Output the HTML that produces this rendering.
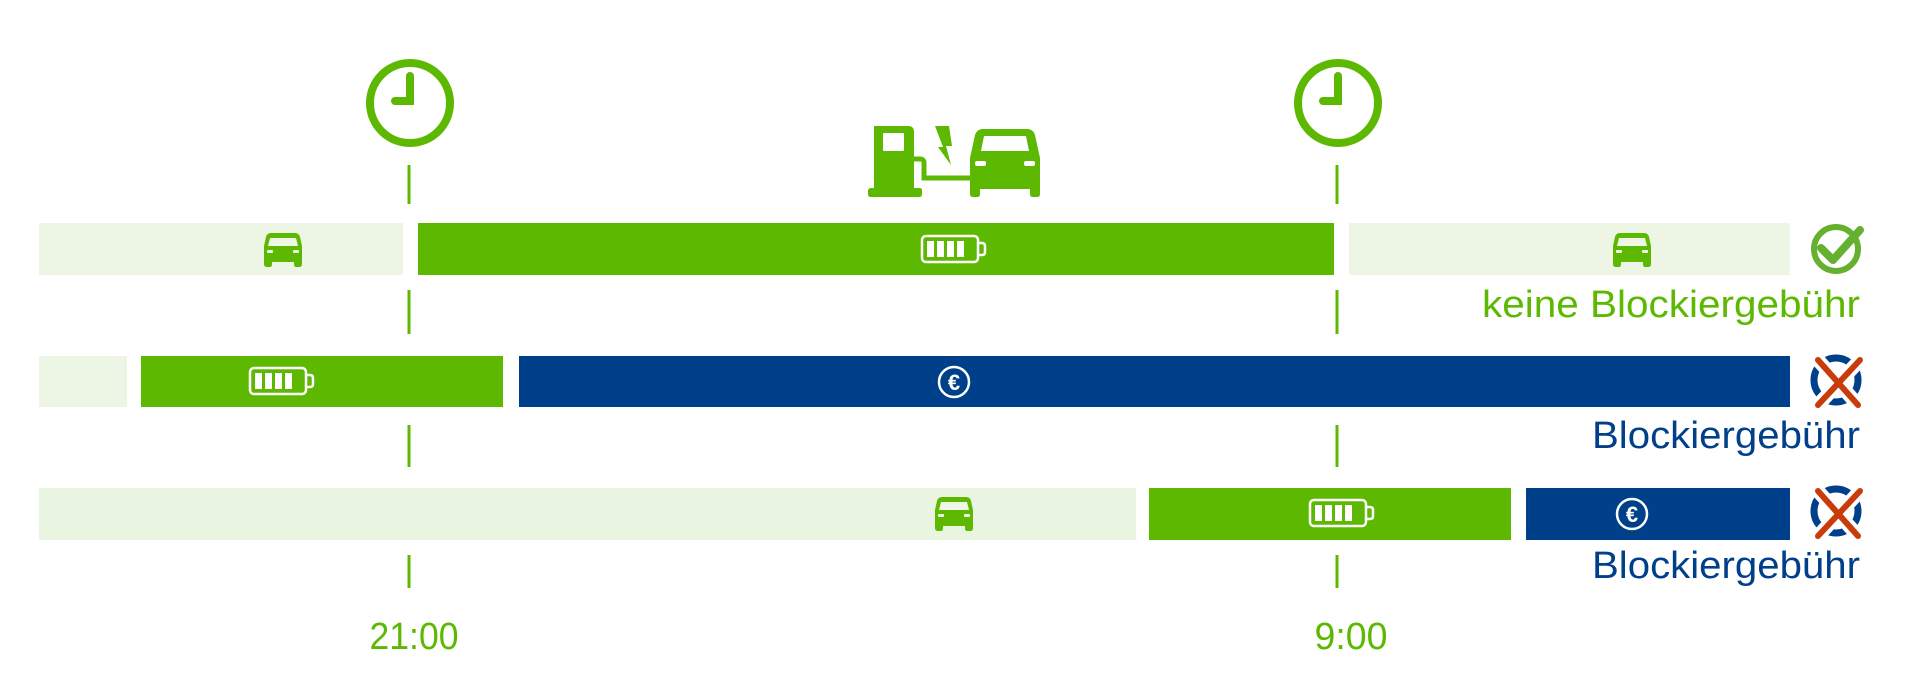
<!DOCTYPE html>
<html><head><meta charset="utf-8"><style>html,body{margin:0;padding:0;background:#fff}svg{display:block}</style></head>
<body>
<svg width="1920" height="680" viewBox="0 0 1920 680" xmlns="http://www.w3.org/2000/svg">
<defs>
<g id="car">
<path d="M-12,-17 H12 Q16,-17 17,-13 L19,-4 V14 Q19,17 16,17 H13 Q11,17 11,14 V12 H-11 V14 Q-11,17 -13,17 H-16 Q-19,17 -19,14 V-4 L-17,-13 Q-16,-17 -12,-17 Z" fill="#5cb800"/>
<path d="M-13,-12 H13 L15,-4 H-15 Z" fill="#eef6e6"/>
<rect x="-16" y="0" width="6" height="3" rx="1" fill="#eef6e6"/>
<rect x="10" y="0" width="6" height="3" rx="1" fill="#eef6e6"/>
</g>
<g id="bat">
<rect x="-32" y="-13" width="56" height="26" rx="4" fill="none" stroke="#fff" stroke-width="2.5"/>
<path d="M24,-6 h4 q3,0 3,3 v6 q0,3 -3,3 h-4" fill="none" stroke="#fff" stroke-width="2.5"/>
<rect x="-27" y="-8" width="7" height="16" fill="#fff"/>
<rect x="-17" y="-8" width="7" height="16" fill="#fff"/>
<rect x="-7" y="-8" width="7" height="16" fill="#fff"/>
<rect x="3" y="-8" width="7" height="16" fill="#fff"/>
</g>
<g id="eur">
<circle r="15" fill="none" stroke="#fff" stroke-width="2.5"/>
<text x="0" y="8" text-anchor="middle" font-family="Liberation Sans, sans-serif" font-weight="bold" font-size="22" fill="#fff">€</text>
</g>
<g id="xx">
<circle r="22" fill="none" stroke="#00408a" stroke-width="7"/>
<path d="M-18,-20 L22,25 M24,-20 L-18,25" stroke="#fff" stroke-width="14" stroke-linecap="round"/>
<path d="M-18,-20 L22,25 M24,-20 L-18,25" stroke="#c83c0a" stroke-width="6" stroke-linecap="round"/>
</g>
</defs>
<g stroke="#5cb800" stroke-width="3">
<path d="M409,165V204 M409,290V334 M409,425V467 M409,555V588"/>
<path d="M1337,165V204 M1337,290V334 M1337,425V467 M1337,555V588"/>
</g>
<g fill="none" stroke="#5cb800" stroke-width="8" stroke-linecap="round">
<circle cx="410" cy="103" r="40"/>
<path d="M410,76V101H395"/>
<circle cx="1338" cy="103" r="40"/>
<path d="M1338,76V101H1323"/>
</g>
<g fill="#5cb800">
<path d="M874,126 H908 Q914,126 914,132 V188 H920 Q922,188 922,191 V194 Q922,197 919,197 H871 Q868,197 868,194 V191 Q868,188 871,188 H874 Z"/>
<rect x="883" y="133" width="21" height="18" rx="1" fill="#fff"/>
<path d="M914,159 H920 Q924,159 924,163 V178 H974" fill="none" stroke="#5cb800" stroke-width="5"/>
<path d="M935,126 H949 L952,146 L946,146 L951,165 L938,147 L943,147 Z"/>
<path d="M983,129 H1027 Q1033,129 1035,135 L1040,158 V194 Q1040,197 1037,197 H1033 Q1030,197 1030,194 V189 H980 V194 Q980,197 977,197 H973 Q970,197 970,194 V158 L975,135 Q977,129 983,129 Z"/>
<path d="M981,151 L984,136 H1026 L1029,151 Z" fill="#fff"/>
<rect x="975" y="161" width="11" height="5" rx="2" fill="#fff"/>
<rect x="1024" y="161" width="11" height="5" rx="2" fill="#fff"/>
</g>
<rect x="39" y="223" width="364" height="52" fill="#edf6e5"/>
<rect x="418" y="223" width="916" height="52" fill="#5cb800"/>
<rect x="1349" y="223" width="441" height="52" fill="#edf6e5"/>
<use href="#car" x="283" y="250"/>
<use href="#car" x="1632" y="250"/>
<use href="#bat" x="954" y="249"/>
<circle cx="1836" cy="249" r="22" fill="none" stroke="#66b030" stroke-width="6"/>
<path d="M1821,248 L1833,260 L1860,230" fill="none" stroke="#66b030" stroke-width="8" stroke-linecap="round" stroke-linejoin="round"/>
<text x="1860" y="317" text-anchor="end" font-family="Liberation Sans, sans-serif" font-size="38" fill="#5cb800" textLength="378" lengthAdjust="spacingAndGlyphs">keine Blockiergebühr</text>
<rect x="39" y="356" width="88" height="51" fill="#edf6e5"/>
<rect x="141" y="356" width="362" height="51" fill="#5cb800"/>
<rect x="519" y="356" width="1271" height="51" fill="#00408a"/>
<use href="#bat" x="282" y="381"/>
<use href="#eur" x="954" y="382"/>
<use href="#xx" x="1836" y="380"/>
<text x="1860" y="448" text-anchor="end" font-family="Liberation Sans, sans-serif" font-size="38" fill="#00408a" textLength="268" lengthAdjust="spacingAndGlyphs">Blockiergebühr</text>
<rect x="39" y="488" width="1097" height="52" fill="#e9f5e0"/>
<rect x="1149" y="488" width="362" height="52" fill="#5cb800"/>
<rect x="1526" y="488" width="264" height="52" fill="#00408a"/>
<use href="#car" x="954" y="514"/>
<use href="#bat" x="1342" y="513"/>
<use href="#eur" x="1632" y="514"/>
<use href="#xx" x="1836" y="511"/>
<text x="1860" y="578" text-anchor="end" font-family="Liberation Sans, sans-serif" font-size="38" fill="#00408a" textLength="268" lengthAdjust="spacingAndGlyphs">Blockiergebühr</text>
<text x="414" y="649" text-anchor="middle" font-family="Liberation Sans, sans-serif" font-size="38" fill="#5cb800" textLength="89" lengthAdjust="spacingAndGlyphs">21:00</text>
<text x="1351" y="649" text-anchor="middle" font-family="Liberation Sans, sans-serif" font-size="38" fill="#5cb800" textLength="73" lengthAdjust="spacingAndGlyphs">9:00</text>
</svg>
</body></html>
